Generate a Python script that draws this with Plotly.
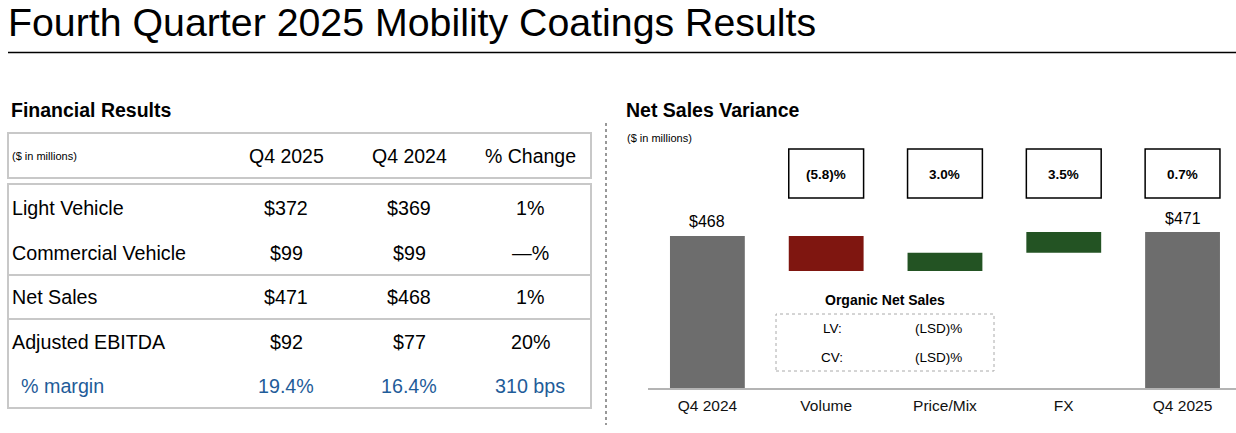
import plotly.graph_objects as go

# ---------------- data ----------------
row_labels = ["Light Vehicle", "Commercial Vehicle", "Net Sales", "Adjusted EBITDA", "% margin"]
q4_2025 = ["$372", "$99", "$471", "$92", "19.4%"]
q4_2024 = ["$369", "$99", "$468", "$77", "16.4%"]
pct_change = ["1%", "—%", "1%", "20%", "310 bps"]
col_headers = ["Q4 2025", "Q4 2024", "% Change"]

categories = ["Q4 2024", "Volume", "Price/Mix", "FX", "Q4 2025"]
start_value = 468
deltas = [-27, 14, 16]
end_value = 471
variance_pct = ["(5.8)%", "3.0%", "3.5%", "0.7%"]
organic_labels = ["LV:", "CV:"]
organic_values = ["(LSD)%", "(LSD)%"]

# ---------------- layout helpers ----------------
W, H = 1236, 433
FONT = "Liberation Sans, Arial, sans-serif"
AXIS_FLOOR = 351
PX_PER_UNIT = 1.3
PLOT_BOTTOM, PLOT_TOP = 388, 140


def px(x):
    return x / W


def py(y):
    return 1 - y / H


# bar geometry built from data
bases, heights, colors = [], [], []
bases.append(AXIS_FLOOR)
heights.append(start_value - AXIS_FLOOR)
colors.append("#6d6d6d")
running = start_value
for d in deltas:
    if d < 0:
        bases.append(running + d)
        heights.append(-d)
        colors.append("#7f1610")
    else:
        bases.append(running)
        heights.append(d)
        colors.append("#235323")
    running += d
bases.append(AXIS_FLOOR)
heights.append(end_value - AXIS_FLOOR)
colors.append("#6d6d6d")

fig = go.Figure()
fig.add_trace(go.Bar(
    x=categories, y=heights, base=bases,
    marker=dict(color=colors, line=dict(width=0)),
    width=0.63, hoverinfo="skip", showlegend=False,
))

annotations = []
shapes = []

# Title
annotations.append(dict(x=px(6), y=py(22), xref="paper", yref="paper", xanchor="left", yanchor="middle",
                        text="Fourth Quarter 2025 Mobility Coatings Results", showarrow=False,
                        font=dict(family=FONT, size=39.3, color="#000")))
shapes.append(dict(type="line", xref="paper", yref="paper", x0=px(8), x1=1, y0=py(52.5), y1=py(52.5),
                   line=dict(color="#000", width=1.5)))

# Section titles
annotations.append(dict(x=px(9), y=py(110), xref="paper", yref="paper", xanchor="left", yanchor="middle",
                        text="<b>Financial Results</b>", showarrow=False,
                        font=dict(family=FONT, size=19.5, color="#000")))
annotations.append(dict(x=px(624), y=py(110), xref="paper", yref="paper", xanchor="left", yanchor="middle",
                        text="<b>Net Sales Variance</b>", showarrow=False,
                        font=dict(family=FONT, size=19.5, color="#000")))
annotations.append(dict(x=px(625), y=py(138), xref="paper", yref="paper", xanchor="left", yanchor="middle",
                        text="($ in millions)", showarrow=False,
                        font=dict(family=FONT, size=11, color="#000")))

# Table
TL, TR = 8, 591
shapes.append(dict(type="rect", xref="paper", yref="paper", x0=px(TL), x1=px(TR), y0=py(178), y1=py(133),
                   line=dict(color="#c8c8c8", width=2)))
shapes.append(dict(type="rect", xref="paper", yref="paper", x0=px(TL), x1=px(TR), y0=py(408), y1=py(184),
                   line=dict(color="#c8c8c8", width=2)))
for yy in [275, 319]:
    shapes.append(dict(type="line", xref="paper", yref="paper", x0=px(TL), x1=px(TR), y0=py(yy), y1=py(yy),
                       line=dict(color="#c8c8c8", width=2)))

annotations.append(dict(x=px(10), y=py(156), xref="paper", yref="paper", xanchor="left", yanchor="middle",
                        text="($ in millions)", showarrow=False,
                        font=dict(family=FONT, size=11, color="#000")))
col_x = [286, 409, 530]
for cx, h in zip(col_x, col_headers):
    annotations.append(dict(x=px(cx), y=py(156), xref="paper", yref="paper", xanchor="center", yanchor="middle",
                            text=h, showarrow=False, font=dict(family=FONT, size=19.5, color="#000")))

row_y = [208, 253, 297, 342, 386]
for i, (lab, a, b, c) in enumerate(zip(row_labels, q4_2025, q4_2024, pct_change)):
    is_margin = lab == "% margin"
    color = "#1f5c99" if is_margin else "#000"
    lx = 19 if is_margin else 10
    annotations.append(dict(x=px(lx), y=py(row_y[i]), xref="paper", yref="paper", xanchor="left",
                            yanchor="middle", text=lab, showarrow=False,
                            font=dict(family=FONT, size=19.7, color=color)))
    for cx, v in zip(col_x, [a, b, c]):
        annotations.append(dict(x=px(cx), y=py(row_y[i]), xref="paper", yref="paper", xanchor="center",
                                yanchor="middle", text=v, showarrow=False,
                                font=dict(family=FONT, size=19.7, color=color)))

# Vertical dotted separator
shapes.append(dict(type="line", xref="paper", yref="paper", x0=px(606), x1=px(606), y0=py(123), y1=py(425),
                   line=dict(color="#777", width=1.5, dash="dot")))

# Variance percentage boxes
for i, txt in enumerate(variance_pct, start=1):
    shapes.append(dict(type="rect", xref="x", yref="paper", x0=i - 0.315, x1=i + 0.315,
                       y0=py(198), y1=py(149), line=dict(color="#000", width=1.5), fillcolor="white"))
    annotations.append(dict(x=categories[i], y=py(174), xref="x", yref="paper", xanchor="center",
                            yanchor="middle", text="<b>%s</b>" % txt, showarrow=False,
                            font=dict(family=FONT, size=13.5, color="#000")))

# Total value labels
for cat, val in [(categories[0], start_value), (categories[-1], end_value)]:
    annotations.append(dict(x=cat, y=val, xref="x", yref="y", xanchor="center", yanchor="middle",
                            yshift=14, text="$%d" % val, showarrow=False,
                            font=dict(family=FONT, size=16, color="#000")))

# Organic Net Sales box
annotations.append(dict(x=px(885), y=py(300), xref="paper", yref="paper", xanchor="center", yanchor="middle",
                        text="<b>Organic Net Sales</b>", showarrow=False,
                        font=dict(family=FONT, size=14, color="#000")))
shapes.append(dict(type="rect", xref="paper", yref="paper", x0=px(776), x1=px(994), y0=py(371), y1=py(314),
                   line=dict(color="#aaa", width=1, dash="dot")))
for j, (lab, val) in enumerate(zip(organic_labels, organic_values)):
    yy = [328, 357][j]
    annotations.append(dict(x=px(832), y=py(yy), xref="paper", yref="paper", xanchor="center",
                            yanchor="middle", text=lab, showarrow=False,
                            font=dict(family=FONT, size=13.5, color="#000")))
    annotations.append(dict(x=px(938), y=py(yy), xref="paper", yref="paper", xanchor="center",
                            yanchor="middle", text=val, showarrow=False,
                            font=dict(family=FONT, size=13.5, color="#000")))

fig.update_layout(
    width=W, height=H, autosize=False,
    margin=dict(l=0, r=0, t=0, b=0),
    paper_bgcolor="white", plot_bgcolor="white",
    bargap=0.37,
    xaxis=dict(domain=[px(648), 1], range=[-0.5, 4.45], showgrid=False, zeroline=False,
               showline=True, linecolor="#b4b4b4", linewidth=2, ticks="", ticklabelstandoff=2,
               tickfont=dict(family=FONT, size=15.5, color="#111"), fixedrange=True),
    yaxis=dict(domain=[py(PLOT_BOTTOM), py(PLOT_TOP)],
               range=[AXIS_FLOOR, AXIS_FLOOR + (PLOT_BOTTOM - PLOT_TOP) / PX_PER_UNIT],
               visible=False, fixedrange=True),
    annotations=annotations,
    shapes=shapes,
)

fig.write_html("out.html", config={"displayModeBar": False},
               post_script="document.body.style.margin='0';")
